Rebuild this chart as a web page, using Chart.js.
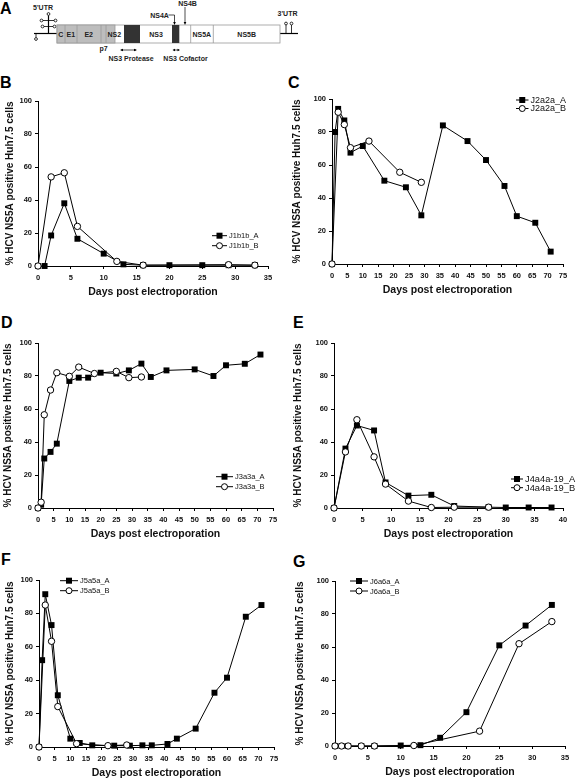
<!DOCTYPE html>
<html>
<head>
<meta charset="utf-8">
<script src="https://cdn.jsdelivr.net/npm/chart.js@4.4.0/dist/chart.umd.min.js"></script>
<style>
body { margin: 0; background: #fff; width: 576px; height: 779px; position: relative; overflow: hidden; }
canvas { position: absolute; }
svg { position: absolute; left: 0; top: 0; }
</style>
</head>
<body>
<svg width="576" height="779" font-family="Liberation Sans, Arial, sans-serif" font-weight="bold">
  <!-- panel letters -->
  <g font-size="16">
    <text x="0" y="14">A</text>
    <text x="0" y="88">B</text>
    <text x="288" y="88">C</text>
    <text x="1" y="328">D</text>
    <text x="293" y="328">E</text>
    <text x="1" y="565">F</text>
    <text x="293" y="567">G</text>
  </g>
  <!-- genome diagram -->
  <g stroke="#000" stroke-width="0.8" fill="none">
    <line x1="34" y1="33.5" x2="57" y2="33.5" stroke-width="1.2"/>
    <line x1="36" y1="33.5" x2="36" y2="37.5"/>
    <circle cx="36" cy="39" r="1.4"/>
    <line x1="48.5" y1="33.5" x2="48.5" y2="15.5" stroke-width="1.2"/>
    <circle cx="48.5" cy="14" r="1.4"/>
    <line x1="43" y1="20.5" x2="54" y2="20.5"/>
    <circle cx="41.5" cy="20.5" r="1.4"/>
    <circle cx="55.5" cy="20.5" r="1.4"/>
    <line x1="44" y1="26.5" x2="53" y2="26.5"/>
    <circle cx="42.5" cy="26.5" r="1.4"/>
    <circle cx="54.5" cy="26.5" r="1.4"/>
    <line x1="280" y1="33.5" x2="298" y2="33.5" stroke-width="1.2"/>
    <line x1="286" y1="33.5" x2="286" y2="25"/>
    <circle cx="286" cy="23.5" r="1.4"/>
    <line x1="291.5" y1="33.5" x2="291.5" y2="25"/>
    <circle cx="291.5" cy="23.5" r="1.4"/>
  </g>
  <rect x="57" y="25" width="223" height="18" fill="#fff" stroke="#999" stroke-width="0.8"/>
  <rect x="57" y="25" width="58" height="18" fill="#bdbdbd" stroke="#999" stroke-width="0.8"/>
  <g stroke="#999" stroke-width="0.8">
    <line x1="65" y1="25" x2="65" y2="43"/>
    <line x1="77" y1="25" x2="77" y2="43"/>
    <line x1="101" y1="25" x2="101" y2="43"/>
    <line x1="106" y1="25" x2="106" y2="43"/>
    <line x1="190.7" y1="25" x2="190.7" y2="43"/>
    <line x1="213.3" y1="25" x2="213.3" y2="43"/>
  </g>
  <rect x="124" y="25" width="16" height="18" fill="#333"/>
  <rect x="172" y="25" width="7.3" height="18" fill="#333"/>
  <g font-size="7" text-anchor="middle" fill="#222">
    <text x="60.7" y="36.5">C</text>
    <text x="70.8" y="36.5">E1</text>
    <text x="88.7" y="36.5">E2</text>
    <text x="114.3" y="36.5">NS2</text>
    <text x="156" y="36.5">NS3</text>
    <text x="201.8" y="36.5">NS5A</text>
    <text x="246.7" y="36.5">NS5B</text>
    <text x="43" y="10">5'UTR</text>
    <text x="287.5" y="16">3'UTR</text>
    <text x="159.5" y="17.5">NS4A</text>
    <text x="187.5" y="5.5">NS4B</text>
    <text x="103.5" y="51">p7</text>
    <text x="131" y="60.5">NS3 Protease</text>
    <text x="185.5" y="60.5">NS3 Cofactor</text>
  </g>
  <g stroke="#000" stroke-width="0.7" fill="none">
    <polyline points="168.5,15 174.5,15 174.5,23"/>
    <line x1="185" y1="7" x2="185" y2="23"/>
    <line x1="121" y1="50" x2="136" y2="50"/>
    <line x1="173.5" y1="50" x2="179" y2="50"/>
  </g>
  <g fill="#000">
    <polygon points="173.2,22 175.8,22 174.5,25"/>
    <polygon points="183.7,22 186.3,22 185,25"/>
    <polygon points="120,50 123,48.7 123,51.3"/>
    <polygon points="137,50 134,48.7 134,51.3"/>
    <polygon points="172.5,50 175,48.8 175,51.2"/>
    <polygon points="180,50 177.5,48.8 177.5,51.2"/>
  </g>
</svg>

<canvas id="chartB"></canvas>
<canvas id="chartC"></canvas>
<canvas id="chartD"></canvas>
<canvas id="chartE"></canvas>
<canvas id="chartF"></canvas>
<canvas id="chartG"></canvas>

<script>
// days post electroporation and % NS5A positive cells

var daysB_A = [0, 1, 2, 4, 6, 10, 13, 16, 20, 25, 29, 33];
var valsB_A = [0, 0, 18.5, 38, 16.5, 7.5, 1, 0.5, 0.5, 0.5, 0.5, 0.5];
var daysB_B = [0, 2, 4, 6, 12, 16, 29, 33];
var valsB_B = [0, 54, 56.5, 24, 2.8, 0.5, 0.8, 0.5];

var daysC_A = [0, 1, 2, 4, 6, 10, 17, 24, 29, 36, 44, 50, 56, 60, 66, 71];
var valsC_A = [0, 80, 94, 87, 67.5, 71.5, 50.5, 46.5, 29.5, 84, 74.5, 63, 47.3, 29, 25, 7.5];
var daysC_B = [0, 2, 4, 6, 12, 22, 29];
var valsC_B = [0, 92, 84.5, 70.5, 74.5, 55.6, 49.5];

var daysD_A = [0, 1, 2, 4, 6, 10, 13, 16, 20, 25, 29, 33, 36, 41, 50, 56, 60, 66, 71];
var valsD_A = [0, 2, 30, 34, 39, 77, 79, 79, 82, 81.5, 83.4, 87.5, 79.4, 83.4, 84, 80, 86.5, 87.4, 93];
var daysD_B = [0, 1, 2, 4, 6, 10, 13, 18, 25, 29, 33];
var valsD_B = [0, 3.5, 56.5, 71.5, 82, 79.8, 85.4, 81.5, 82.8, 79, 79.4];

var daysE_A = [0, 2, 4, 7, 9, 13, 17, 21, 27, 30, 34, 38];
var valsE_A = [0, 36, 50, 47, 15.5, 7.5, 8, 1.2, 0.5, 0.3, 0.3, 0.3];
var daysE_B = [0, 2, 4, 7, 9, 13, 17, 21, 27];
var valsE_B = [0, 34, 53.5, 31, 14.5, 4.2, 0.3, 0.5, 0.5];

var daysF_A = [0, 1, 2, 4, 6, 10, 13, 17, 24, 29, 33, 36, 41, 44, 50, 56, 60, 66, 71];
var valsF_A = [0, 52, 91.5, 73, 31, 5, 2.4, 1, 0.8, 0.8, 1, 1, 1.8, 5, 11, 32.5, 41.5, 78, 85];
var daysF_B = [0, 2, 4, 6, 12, 22, 28];
var valsF_B = [0, 85, 63.3, 24.2, 2, 0.8, 1.2];

var daysG_A = [0, 1, 2, 4, 6, 10, 13, 16, 20, 25, 29, 33];
var valsG_A = [0, 0, 0, 0, 0, 0.3, 0.5, 5, 20.5, 61, 73, 85.5];
var daysG_B = [0, 1, 2, 4, 6, 12, 22, 28, 33];
var valsG_B = [0, 0, 0, 0, 0, 0.3, 9, 62, 75.4];

var yTicks = [0, 20, 40, 60, 80, 100];
var xTitle = 'Days post electroporation';
var yTitle = '% HCV NS5A positive Huh7.5 cells';

var FONT = '"Liberation Sans", Arial, sans-serif';
Chart.defaults.font.family = FONT;
Chart.defaults.color = '#111';

function toPoints(xs, ys) {
    return xs.map(function (x, i) { return {x: x, y: ys[i]}; });
}

// plot: chart area in page pixels, leg: where the little legend sits
function makePanel(id, plot, xMax, names, a, b, yGap, leg) {
    var W = 44, H = 34, top = 10;
    var padR = plot.l < 288 ? 14 : 576 - plot.r;
    var canvas = document.getElementById(id);
    var cl = plot.l - W, ct = plot.t - top;
    canvas.width = plot.r - plot.l + W + padR;
    canvas.height = plot.b - plot.t + top + H;
    canvas.style.left = cl + 'px';
    canvas.style.top = ct + 'px';

    var legendPlugin = {
        id: 'insideLegend',
        afterDraw: function (chart) {
            var ctx = chart.ctx;
            ctx.save();
            ctx.font = (leg.size || 7.5) + 'px ' + FONT;
            ctx.textBaseline = 'middle';
            ctx.strokeStyle = '#000';
            ctx.lineWidth = 1;
            for (var i = 0; i < 2; i++) {
                var x = leg.x - cl, y = leg.y + i * leg.dy - ct;
                ctx.beginPath();
                ctx.moveTo(x, y);
                ctx.lineTo(x + leg.len, y);
                ctx.stroke();
                var mx = x + leg.len / 2;
                if (i === 0) {
                    ctx.fillStyle = '#000';
                    ctx.fillRect(mx - 3, y - 3, 6, 6);
                } else {
                    ctx.beginPath();
                    ctx.arc(mx, y, 3, 0, Math.PI * 2);
                    ctx.fillStyle = '#fff';
                    ctx.fill();
                    ctx.stroke();
                }
                ctx.fillStyle = '#111';
                ctx.fillText(names[i], x + leg.len + 2, y + 0.5);
            }
            ctx.restore();
        }
    };

    return new Chart(canvas, {
        type: 'line',
        data: {
            datasets: [
                {
                    data: toPoints(a[0], a[1]),
                    order: 1,
                    borderColor: '#000',
                    borderWidth: 1,
                    pointStyle: 'rect',
                    pointRadius: 4.2,
                    pointBackgroundColor: '#000',
                    pointBorderColor: '#000',
                    pointBorderWidth: 0,
                    tension: 0,
                    clip: false
                },
                {
                    data: toPoints(b[0], b[1]),
                    order: 0,
                    borderColor: '#000',
                    borderWidth: 1,
                    pointStyle: 'circle',
                    pointRadius: 3.2,
                    pointBackgroundColor: '#fff',
                    pointBorderColor: '#000',
                    pointBorderWidth: 1,
                    tension: 0,
                    clip: false
                }
            ]
        },
        options: {
            responsive: false,
            animation: false,
            devicePixelRatio: 1,
            layout: {padding: {left: 0, top: top, right: padR, bottom: 0}},
            plugins: {legend: {display: false}, tooltip: {enabled: false}},
            scales: {
                x: {
                    type: 'linear',
                    min: 0,
                    max: xMax,
                    afterFit: function (s) { s.height = H; },
                    border: {display: true, color: '#000', width: 1},
                    grid: {drawOnChartArea: false, drawTicks: true, tickLength: 3, tickColor: '#000'},
                    ticks: {stepSize: 5, padding: 4, maxRotation: 0, autoSkip: false,
                            font: {size: 7.5, weight: 'bold'}},
                    title: {display: true, text: xTitle, font: {size: 10.5, weight: 'bold'},
                            color: '#111', padding: {top: 0, bottom: 1.7}}
                },
                y: {
                    type: 'linear',
                    min: 0,
                    max: 100,
                    afterFit: function (s) { s.width = W; },
                    afterBuildTicks: function (s) {
                        s.ticks = yTicks.map(function (v) { return {value: v}; });
                    },
                    border: {display: true, color: '#000', width: 1},
                    grid: {drawOnChartArea: false, drawTicks: true, tickLength: 3, tickColor: '#000'},
                    ticks: {padding: 3, font: {size: 7.5, weight: 'bold'}},
                    title: {display: true, text: yTitle, font: {size: 10, weight: 'bold'},
                            color: '#111', padding: {top: W - yGap - 6, bottom: 0}}
                }
            }
        },
        plugins: [legendPlugin]
    });
}

makePanel('chartB', {l: 38, t: 101, r: 268, b: 266}, 35, ['J1b1b_A', 'J1b1b_B'],
    [daysB_A, valsB_A], [daysB_B, valsB_B], 28, {x: 212, y: 235.7, dy: 10, len: 15});
makePanel('chartC', {l: 332, t: 99, r: 563, b: 264}, 75, ['J2a2a_A', 'J2a2a_B'],
    [daysC_A, valsC_A], [daysC_B, valsC_B], 35, {x: 516, y: 100, dy: 8.5, len: 12.5, size: 9});
makePanel('chartD', {l: 38, t: 343, r: 273, b: 508}, 75, ['J3a3a_A', 'J3a3a_B'],
    [daysD_A, valsD_A], [daysD_B, valsD_B], 30, {x: 216, y: 476.7, dy: 10, len: 17});
makePanel('chartE', {l: 334, t: 343, r: 563, b: 508}, 40, ['J4a4a-19_A', 'J4a4a-19_B'],
    [daysE_A, valsE_A], [daysE_B, valsE_B], 36, {x: 511, y: 479, dy: 8.7, len: 12, size: 9.3});
makePanel('chartF', {l: 39, t: 580, r: 274, b: 747}, 75, ['J5a5a_A', 'J5a5a_B'],
    [daysF_A, valsF_A], [daysF_B, valsF_B], 29, {x: 60, y: 580.7, dy: 10, len: 18});
makePanel('chartG', {l: 335, t: 581, r: 565, b: 746}, 35, ['J6a6a_A', 'J6a6a_B'],
    [daysG_A, valsG_A], [daysG_B, valsG_B], 35, {x: 350, y: 581, dy: 10, len: 18});
</script>
</body>
</html>
